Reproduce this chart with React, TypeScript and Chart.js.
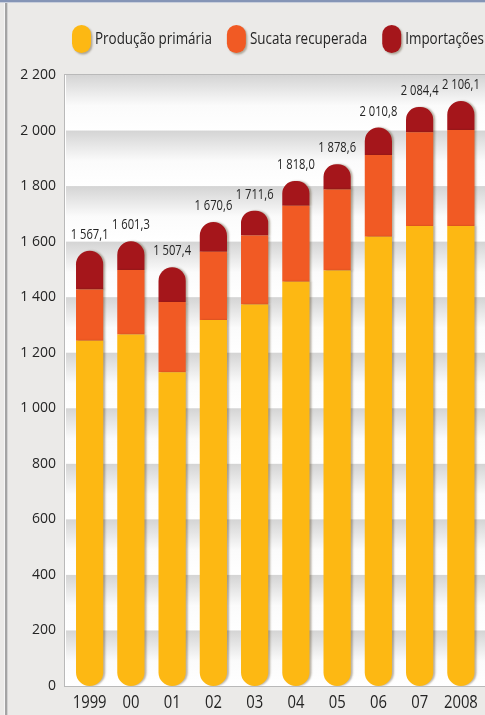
import { useEffect, useRef } from "react";
import { Chart, registerables } from "chart.js";

Chart.register(...registerables);

const YEARS = ["1999", "00", "01", "02", "03", "04", "05", "06", "07", "2008"];
const PRIMARY = [1243, 1266, 1130, 1318, 1374, 1456, 1496, 1618, 1656, 1656];
const SCRAP = [185, 232, 253, 246, 248, 273, 292, 294, 338, 346];
const IMPORTS = [139.1, 103.3, 124.4, 106.6, 89.6, 89.0, 90.6, 98.8, 90.4, 104.1];
const TOTAL_LABELS = ["1 567,1", "1 601,3", "1 507,4", "1 670,6", "1 711,6", "1 818,0", "1 878,6", "2 010,8", "2 084,4", "2 106,1"];
const SERIES_NAMES = ["Produção primária", "Sucata recuperada", "Importações"];
const SERIES_COLORS = ["#FDB813", "#F15A24", "#A5161B"];
const Y_MIN = 0;
const Y_MAX = 2200;
const Y_STEP = 200;

const FONT = "'Open Sans', 'Noto Sans', sans-serif";
const TEXT_COLOR = "#242424";

function condensedText(
  ctx: CanvasRenderingContext2D,
  text: string,
  x: number,
  y: number,
  size: number,
  align: CanvasTextAlign,
  baseline: CanvasTextBaseline,
  sx = 0.78
) {
  ctx.save();
  ctx.font = `${size}px ${FONT}`;
  ctx.fillStyle = TEXT_COLOR;
  ctx.textAlign = align;
  ctx.textBaseline = baseline;
  ctx.translate(x, y);
  ctx.scale(sx, 1);
  ctx.fillText(text, 0, 0);
  const w = ctx.measureText(text).width * sx;
  ctx.restore();
  return w;
}

function roundRectPath(ctx: CanvasRenderingContext2D, x: number, y: number, w: number, h: number, r: number) {
  ctx.beginPath();
  ctx.moveTo(x + r, y);
  ctx.lineTo(x + w - r, y);
  ctx.arcTo(x + w, y, x + w, y + r, r);
  ctx.lineTo(x + w, y + h - r);
  ctx.arcTo(x + w, y + h, x + w - r, y + h, r);
  ctx.lineTo(x + r, y + h);
  ctx.arcTo(x, y + h, x, y + h - r, r);
  ctx.lineTo(x, y + r);
  ctx.arcTo(x, y, x + r, y, r);
  ctx.closePath();
}

const backgroundPlugin = {
  id: "bgPlugin",
  beforeDraw(chart: any) {
    const ctx: CanvasRenderingContext2D = chart.ctx;
    const W = chart.width;
    const H = chart.height;
    const y = chart.scales.y;
    const area = chart.chartArea;
    ctx.save();
    ctx.fillStyle = "#ebeae8";
    ctx.fillRect(0, 0, W, H);
    ctx.fillStyle = "#8595b6";
    ctx.fillRect(0, 0, W, 2);
    ctx.fillStyle = "#c9cfdc";
    ctx.fillRect(0, 2, W, 1);
    ctx.fillStyle = "#f6f6f6";
    ctx.fillRect(4, 3, 1, H);
    ctx.fillStyle = "#a4a4a4";
    ctx.fillRect(5, 3, 2, H);
    ctx.fillStyle = "#d2d2d2";
    ctx.fillRect(7, 3, 1, H);

    const x0 = area.left - 4;
    const top = y.getPixelForValue(Y_MAX);
    const bottom = y.getPixelForValue(Y_MIN);
    ctx.fillStyle = "#ffffff";
    ctx.fillRect(x0, top, W - x0, bottom - top);
    for (let v = Y_MAX; v > Y_MIN; v -= Y_STEP) {
      const t = y.getPixelForValue(v);
      const b = y.getPixelForValue(v - Y_STEP);
      const g = ctx.createLinearGradient(0, t, 0, b);
      g.addColorStop(0, "#d4d4d4");
      g.addColorStop(0.55, "#fbfbfb");
      g.addColorStop(1, "#ffffff");
      ctx.fillStyle = g;
      ctx.fillRect(x0, t, W - x0, b - t);
    }
    ctx.fillStyle = "#b9b9b9";
    ctx.fillRect(x0 - 1, top - 1, W - x0 + 1, 1);
    ctx.fillRect(x0 - 1, top - 1, 1, bottom - top + 2);
    ctx.fillRect(x0 - 1, bottom, W - x0 + 1, 1);
    ctx.fillStyle = "#ffffff";
    ctx.fillRect(x0, top, 1, bottom - top);
    ctx.restore();
  },
  beforeDatasetsDraw(chart: any) {
    const ctx: CanvasRenderingContext2D = chart.ctx;
    ctx.save();
    ctx.shadowColor = "rgba(60,40,0,0.35)";
    ctx.shadowOffsetX = 2;
    ctx.shadowOffsetY = 0;
    ctx.shadowBlur = 2;
  },
  afterDatasetsDraw(chart: any) {
    const ctx: CanvasRenderingContext2D = chart.ctx;
    ctx.restore();
    const xs = chart.scales.x;
    const topMeta = chart.getDatasetMeta(chart.data.datasets.length - 1);
    topMeta.data.forEach((el: any, i: number) => {
      condensedText(ctx, TOTAL_LABELS[i], el.x, el.y - 12, 14, "center", "alphabetic", 0.8);
    });
    YEARS.forEach((lab, i) => {
      condensedText(ctx, lab, xs.getPixelForValue(i), chart.chartArea.bottom + 17, 19, "center", "middle", 0.78);
    });
    let lx = 72;
    const cy = 39;
    SERIES_NAMES.forEach((name, i) => {
      ctx.save();
      ctx.shadowColor = "rgba(60,40,0,0.35)";
      ctx.shadowOffsetX = 1.5;
      ctx.shadowOffsetY = 1.5;
      ctx.shadowBlur = 2;
      ctx.fillStyle = SERIES_COLORS[i];
      roundRectPath(ctx, lx, cy - 14, 19, 28, 9.5);
      ctx.fill();
      ctx.restore();
      const w = condensedText(ctx, name, lx + 23, cy, 17, "left", "middle", 0.79);
      lx = lx + 23 + w + 15;
    });
  },
};

export default function App() {
  const ref = useRef<HTMLCanvasElement | null>(null);
  useEffect(() => {
    document.body.style.margin = "0";
    const canvas = ref.current;
    if (!canvas) return;
    const chart = new Chart(canvas, {
      type: "bar",
      data: {
        labels: YEARS,
        datasets: [
          {
            label: SERIES_NAMES[0],
            data: PRIMARY,
            backgroundColor: SERIES_COLORS[0],
            borderRadius: { topLeft: 0, topRight: 0, bottomLeft: 14, bottomRight: 14 },
            borderSkipped: false,
          },
          {
            label: SERIES_NAMES[1],
            data: SCRAP,
            backgroundColor: SERIES_COLORS[1],
            borderRadius: 0,
            borderSkipped: false,
          },
          {
            label: SERIES_NAMES[2],
            data: IMPORTS,
            backgroundColor: SERIES_COLORS[2],
            borderRadius: { topLeft: 14, topRight: 14, bottomLeft: 0, bottomRight: 0 },
            borderSkipped: false,
          },
        ],
      },
      options: {
        responsive: false,
        animation: false,
        devicePixelRatio: 1,
        layout: { padding: { top: 75, left: 0, right: 3.5, bottom: 0 } },
        datasets: { bar: { barPercentage: 0.66, categoryPercentage: 1 } },
        plugins: { legend: { display: false }, tooltip: { enabled: false } },
        scales: {
          x: {
            stacked: true,
            grid: { display: false },
            border: { display: false },
            ticks: { display: false },
            afterFit: (s: any) => {
              s.height = 29;
            },
          },
          y: {
            stacked: true,
            min: Y_MIN,
            max: Y_MAX,
            grid: { display: false, drawTicks: false },
            border: { display: false },
            ticks: {
              stepSize: Y_STEP,
              padding: 13,
              color: TEXT_COLOR,
              font: { family: FONT, size: 14 },
              callback: (v: any) => String(v).replace(/\B(?=(\d{3})+(?!\d))/g, " "),
            },
            afterFit: (s: any) => {
              s.width = 69;
            },
          },
        },
      },
      plugins: [backgroundPlugin],
    } as any);
    return () => chart.destroy();
  }, []);
  return (
    <div style={{ width: 485, height: 715 }}>
      <canvas ref={ref} width={485} height={715} style={{ display: "block" }} />
    </div>
  );
}
